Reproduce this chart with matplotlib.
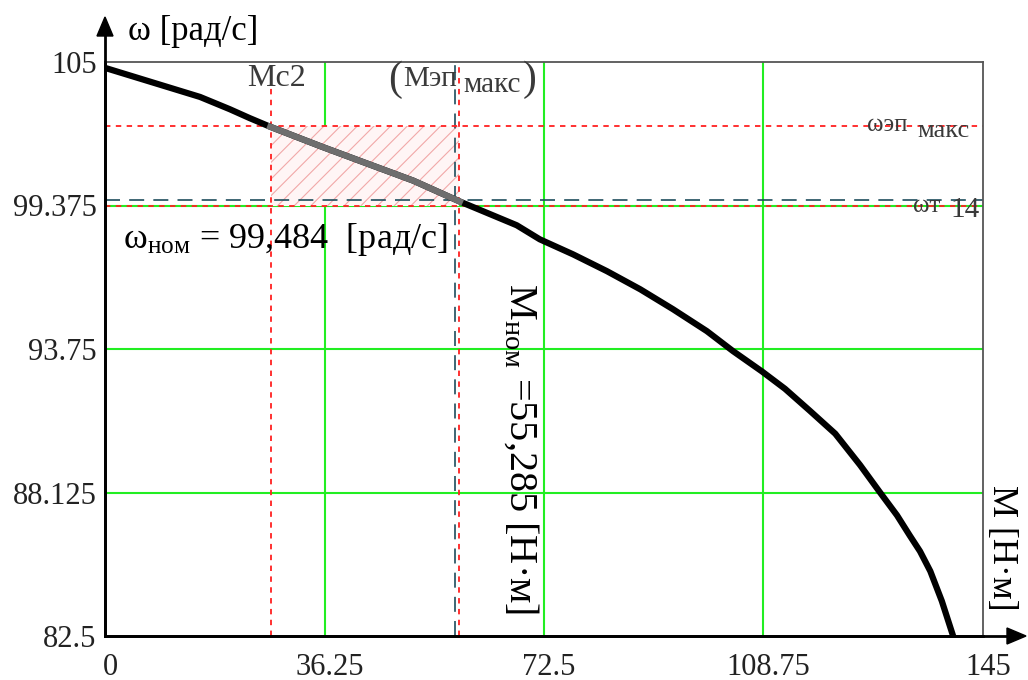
import numpy as np
import matplotlib.pyplot as plt
import matplotlib.transforms as mtransforms
from matplotlib.patches import Rectangle

# --- data ---
M_curve = [0, 15.7, 20.6, 23.9, 27.3, 35.8, 42.6, 50.9, 58.6, 68.0, 71.8,
           77.3, 82.9, 88.4, 93.8, 99.4, 103.7, 108.5, 112.3, 116.4, 120.6,
           124.7, 128.0, 130.8, 132.9, 134.6, 136.3, 138.2, 139.9]
w_curve = [104.77, 103.63, 103.15, 102.8, 102.46, 101.68, 101.08, 100.35,
           99.53, 98.6, 98.05, 97.46, 96.80, 96.09, 95.31, 94.45, 93.67, 92.87,
           92.19, 91.33, 90.43, 89.2, 88.125, 87.23, 86.44, 85.82, 85.04, 83.87,
           82.62]

x_ticks = [0, 36.25, 72.5, 108.75, 145]
x_labels = ["0", "36.25", "72.5", "108.75", "145"]
y_ticks = [82.5, 88.125, 93.75, 99.375, 105]
y_labels = ["82.5", "88.125", "93.75", "99.375", "105"]

M_c2 = 27.4          # Mc2
M_ep_max = 58.5      # Mэп макс
M_nom_line = 57.8
w_ep_max = 102.5     # ωэп макс
w_t14 = 99.375       # ωт 14
w_nom_line = 99.61

plt.rcParams["font.family"] = ["Liberation Serif", "DejaVu Serif"]
plt.rcParams["mathtext.fontset"] = "custom"
plt.rcParams["mathtext.rm"] = "Liberation Serif"
plt.rcParams["mathtext.it"] = "Liberation Serif"
plt.rcParams["mathtext.default"] = "regular"

W, H = 1028, 680
fig = plt.figure(figsize=(W / 100, H / 100), dpi=100)
ax = fig.add_axes([105 / W, 1 - 636 / H, 878 / W, 574 / H])
ax.set_xlim(0, 145)
ax.set_ylim(82.5, 105)

green = "#22ee22"
red = "#ff2020"
teal = "#1e4d5c"
grey_txt = "#3a3a3a"

for x in x_ticks[1:-1]:
    ax.axvline(x, color=green, lw=1.5, zorder=1)
for y in y_ticks[1:-1]:
    ax.axhline(y, color=green, lw=1.5, zorder=1)

# hatched area
plt.rcParams["hatch.linewidth"] = 0.8
rect = Rectangle((M_c2, w_t14), M_ep_max - M_c2, w_ep_max - w_t14,
                 facecolor="#fff5f5", edgecolor="#f2a8a8", hatch="//",
                 lw=0, zorder=1.5)
ax.add_patch(rect)

# red / teal dashed marker lines
ax.axvline(M_c2, color=red, lw=1.3, ls=(0, (3, 3)), zorder=2)
ax.axvline(M_ep_max, color=red, lw=1.3, ls=(0, (3, 3)), zorder=2)
ax.axvline(M_nom_line, color=teal, lw=1.2, ls=(0, (9, 5.5)), zorder=2)
ax.axhline(w_ep_max, color=red, lw=1.3, ls=(0, (3, 3)), zorder=2)
ax.axhline(w_t14, color=red, lw=1.3, ls=(0, (3, 3)), zorder=2)
ax.axhline(w_nom_line, color=teal, lw=1.2, ls=(0, (9, 5.5)), zorder=2)

# mechanical characteristic
ax.plot(M_curve, w_curve, color="black", lw=4.5, zorder=3,
        solid_joinstyle="round")
M_arr = np.array(M_curve)
w_arr = np.array(w_curve)
mask = (M_arr >= M_c2 - 0.2) & (M_arr <= M_ep_max + 0.2)
ax.plot(M_arr[mask], w_arr[mask], color="#6e6e6e", lw=4.5, zorder=3.5,
        solid_joinstyle="round")

ax.set_xticks(x_ticks)
ax.set_xticklabels(x_labels)
ax.set_yticks(y_ticks)
ax.set_yticklabels(y_labels)
ax.tick_params(axis="x", length=0, labelsize=22, pad=12, colors="#222222")
ax.tick_params(axis="y", length=0, labelsize=22, pad=6, colors="#222222")
shift = mtransforms.ScaledTranslation(5 / 100, 0, fig.dpi_scale_trans)
for lab in ax.get_xticklabels():
    lab.set_transform(lab.get_transform() + shift)

for s in ["top", "right"]:
    ax.spines[s].set_color("#555555")
    ax.spines[s].set_linewidth(1.3)
for s in ["left", "bottom"]:
    ax.spines[s].set_color("black")
    ax.spines[s].set_linewidth(2)

# axis arrows
fig.add_artist(plt.Line2D([105 / W, 105 / W], [1 - 636 / H, 1 - 30 / H],
                          color="black", lw=2))
fig.add_artist(plt.Polygon([[97 / W, 1 - 36 / H], [113 / W, 1 - 36 / H],
                            [105 / W, 1 - 17 / H]], closed=True, color="black"))
fig.add_artist(plt.Line2D([105 / W, 1010 / W], [1 - 636 / H, 1 - 636 / H],
                          color="black", lw=2))
fig.add_artist(plt.Polygon([[1007 / W, 1 - 628 / H], [1007 / W, 1 - 644 / H],
                            [1026 / W, 1 - 636 / H]], closed=True, color="black"))

# axis captions
fig.text(128 / W, 1 - 31 / H, "ω [рад/с]", fontsize=25, va="center", ha="left")
fig.text(1001 / W, 1 - 548 / H, "M [Н·м]", fontsize=26, rotation=270,
         va="center", ha="center")

# marker captions
ax.text(23.4, 104.35, "Mc2", fontsize=23, color=grey_txt, ha="left", va="center")
ax.text(46.8, 104.3, "(", fontsize=30, color=grey_txt, ha="left", va="center")
ax.text(49.2, 104.35, "Мэп", fontsize=21, color=grey_txt, ha="left", va="center")
ax.text(59.2, 104.1, "макс", fontsize=21, color=grey_txt, ha="left", va="center")
ax.text(69.0, 104.3, ")", fontsize=30, color=grey_txt, ha="left", va="center")
ax.text(125.9, 102.55, "ωэп", fontsize=18, color=grey_txt, ha="left", va="center")
ax.text(134.1, 102.3, "макс", fontsize=19, color=grey_txt, ha="left", va="center")
ax.text(133.5, 99.35, "ωт", fontsize=18, color=grey_txt, ha="left", va="center")
ax.text(139.6, 99.2, "14", fontsize=21, color=grey_txt, ha="left", va="center")

ax.text(2.9, 98.05, r"ω$_{\mathrm{ном}}$ = 99,484  [рад/с]", fontsize=26,
        ha="left", va="center")
ax.text(68.7, 89.84, r"M$_{\mathrm{ном}}$ =55,285 [Н·м]", fontsize=29,
        rotation=270, ha="center", va="center")

fig.savefig("out.png", dpi=100)
